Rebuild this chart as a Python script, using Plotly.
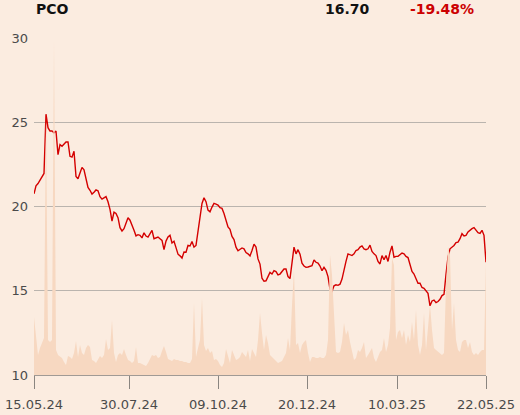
import plotly.graph_objects as go

ticker = "PCO"
last_price = "16.70"
change_pct = "-19.48%"

date_labels = ["15.05.24", "30.07.24", "09.10.24", "20.12.24", "10.03.25", "22.05.25"]
date_positions = [0, 47.5, 92, 136.5, 181.5, 226]

price = [
    20.77, 21.25, 21.38, 21.58, 21.77, 21.98, 25.5, 24.7, 24.5, 24.5,
    24.4, 24.5, 23.1, 23.7, 23.6, 23.7, 23.85, 23.85, 23.0, 22.95,
    23.3, 21.8, 21.66, 22.0, 22.34, 22.2, 21.6, 21.15, 20.98, 20.75,
    20.86, 21.0, 20.95, 20.6, 20.45, 20.55, 20.6, 20.3, 19.85, 19.15,
    19.68, 19.6, 19.35, 18.76, 18.56, 18.7, 19.0, 19.35, 19.2, 18.95,
    18.6, 18.27, 18.34, 18.3, 18.15, 18.45, 18.26, 18.2, 18.4, 18.6,
    18.1, 18.16, 18.2, 18.1, 18.0, 17.45, 17.96, 18.2, 18.3, 17.85,
    17.95, 17.57, 17.18, 17.08, 16.95, 17.31, 17.3, 17.7, 17.67, 17.93,
    17.6, 17.7, 18.6, 19.54, 20.2, 20.53, 20.3, 19.8, 19.7, 19.98,
    20.2, 20.16, 20.1, 19.94, 19.9, 19.6, 19.2, 18.8, 18.66, 18.24,
    18.05, 17.6, 17.38, 17.45, 17.55, 17.5, 17.28, 17.2, 17.08, 17.4,
    17.78, 17.6, 16.9, 16.59, 15.75, 15.57, 15.6, 15.85, 16.1, 16.0,
    16.2, 16.15, 15.95, 16.0, 16.18, 16.3, 16.3, 15.85, 15.73, 16.85,
    17.6, 17.2, 17.45, 17.18, 16.65, 16.48, 16.4, 16.42, 16.45, 16.5,
    16.84, 16.7, 16.65, 16.48, 16.2, 16.4, 16.22, 15.85, 15.1, 14.97,
    15.3, 15.36, 15.33, 15.4, 15.7, 16.3, 16.75, 17.2, 17.14, 17.1,
    17.2, 17.4, 17.45, 17.6, 17.67, 17.5, 17.45, 17.5, 17.72, 17.35,
    17.2, 17.1, 16.75, 16.6, 17.1, 16.85, 17.1, 16.75, 17.3, 17.67,
    17.0, 17.05, 17.05, 17.15, 17.25, 17.2, 17.05, 16.98, 16.6, 16.15,
    16.0, 15.7, 15.45, 15.46, 15.2, 15.15, 15.03, 14.85, 14.11, 14.4,
    14.45, 14.3, 14.37, 14.5, 14.72, 14.8, 15.98, 17.0, 17.5, 17.6,
    17.7, 17.87, 17.9, 18.1, 18.4, 18.27, 18.3, 18.5, 18.63, 18.7,
    18.76, 18.58, 18.46, 18.42, 18.6, 18.3, 16.70,
]

volume = [
    58, 35, 20, 27, 32, 37, 258, 35, 33, 35,
    335, 25, 20, 18, 17, 13, 10, 19, 18, 16,
    22, 34, 18, 30, 22, 20, 27, 30, 28, 15,
    14, 12, 15, 19, 17, 20, 36, 25, 27, 55,
    22, 13, 20, 22, 20, 26, 20, 15, 14, 12,
    14, 28, 12, 12, 11, 10, 9, 12, 17, 20,
    19, 20, 17, 18, 24, 29, 23, 16, 15, 14,
    16, 15, 15, 14, 14, 13, 13, 12, 12, 16,
    72, 18, 27, 35, 77, 30, 24, 27, 22, 24,
    15, 16, 14, 10, 8, 12, 26, 20, 12, 25,
    20, 15, 16, 18, 23, 20, 18, 25, 14, 26,
    22, 18, 35, 62, 42, 25, 40, 32, 20, 18,
    15, 14, 12, 13, 14, 18, 22, 37, 25, 70,
    105, 30, 32, 22, 30, 33, 35, 22, 13, 18,
    18, 17, 17, 18, 17, 17, 20, 35, 120, 100,
    53, 23, 22, 23, 33, 52, 40, 45, 33, 25,
    15, 17, 25, 23, 27, 33, 17, 20, 23, 27,
    17, 13, 18, 23, 25, 37, 23, 30, 47, 117,
    110, 35, 43, 45, 37, 45, 30, 40, 33, 53,
    35, 65, 30, 20, 30, 62, 25, 45, 70, 45,
    27, 25, 23, 22, 20, 22, 90, 128, 120, 45,
    72, 35, 25, 23, 33, 35, 35, 27, 33, 23,
    20, 22, 20, 23, 25, 25, 112,
]

idx = list(range(len(price)))

BG = "#fbece0"
FONT = "DejaVu Sans"

fig = go.Figure()
fig.add_trace(go.Scatter(
    x=idx, y=volume, yaxis="y2", mode="lines",
    line=dict(width=0, color="#f7d8c1"), fill="tozeroy",
    fillcolor="#f7d8c1", hoverinfo="skip", showlegend=False,
))
fig.add_trace(go.Scatter(
    x=idx, y=price, mode="lines",
    line=dict(color="#d40000", width=1.4), showlegend=False,
))

fig.update_layout(
    width=520, height=415,
    margin=dict(l=34, r=34, t=38, b=40),
    paper_bgcolor=BG, plot_bgcolor=BG,
    font=dict(family=FONT, size=13, color="#4a4a4a"),
    xaxis=dict(
        range=[0, len(price) - 1], tickvals=date_positions, ticktext=date_labels,
        showgrid=False, zeroline=False, showline=True, linecolor="#a09a95",
        linewidth=1, ticks="outside", ticklen=13, tickcolor="#8a8580",
        ticklabelstandoff=4,
        tickfont=dict(size=13, color="#4a4a4a"), automargin=False,
    ),
    yaxis=dict(
        range=[10, 30.03], tickvals=[10, 15, 20, 25, 30], showgrid=True,
        gridcolor="#bab4ae", gridwidth=1, zeroline=False, showline=False,
        ticks="", ticklabelstandoff=5,
        tickfont=dict(size=13, color="#4a4a4a"), automargin=False,
    ),
    yaxis2=dict(
        overlaying="y", range=[0, 337], visible=False, showgrid=False,
    ),
    annotations=[
        dict(text="<b>" + ticker + "</b>", xref="paper", yref="paper", x=0, y=1.085,
             xanchor="left", yanchor="middle", showarrow=False,
             font=dict(family=FONT, size=14, color="#111111")),
        dict(text="<b>" + last_price + "</b>", xref="paper", yref="paper", x=0.748, y=1.085,
             xanchor="right", yanchor="middle", showarrow=False,
             font=dict(family=FONT, size=14, color="#111111")),
        dict(text="<b>" + change_pct + "</b>", xref="paper", yref="paper", x=0.977, y=1.085,
             xanchor="right", yanchor="middle", showarrow=False,
             font=dict(family=FONT, size=14, color="#cc0000")),
    ],
)

fig.write_html(
    "out.html",
    config={"displayModeBar": False},
    post_script="document.body.style.margin='0';document.body.style.overflow='hidden';document.body.style.background='" + BG + "';",
)
